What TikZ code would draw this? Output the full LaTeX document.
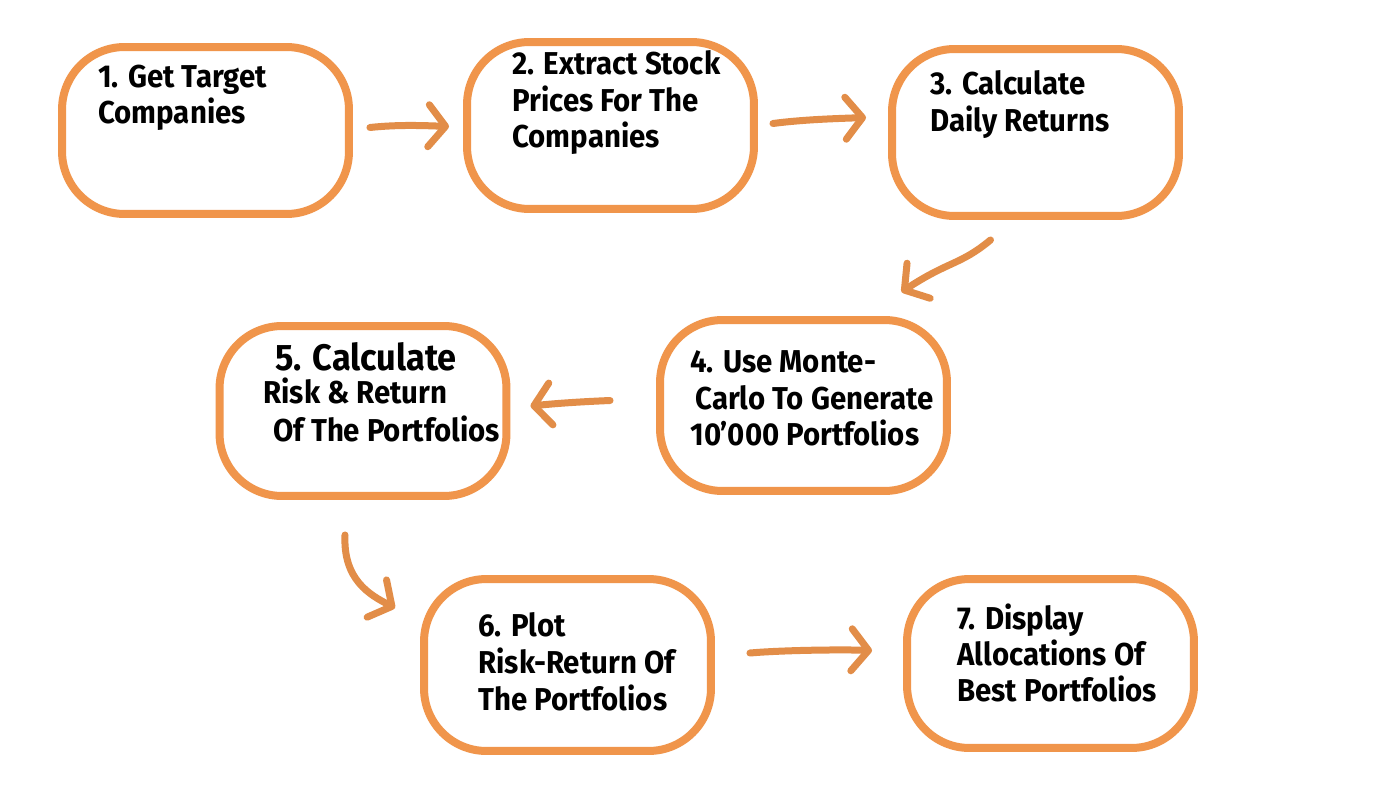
\documentclass[tikz,border=0pt]{standalone}
\usepackage{fontspec}
\setmainfont{Fira Sans}[FakeStretch=0.93]
\usetikzlibrary{arrows.meta,calc}
\definecolor{boxorange}{HTML}{F0954B}
\definecolor{arroworange}{HTML}{E28D48}
\tikzset{
  stepbox/.style={draw=boxorange, line width=0.16cm, rounded corners=1.25cm,
    minimum width=5.74cm, minimum height=3.34cm, fill=white, inner sep=0pt},
  txt/.style={anchor=base west, inner sep=0pt, font=\bfseries\fontsize{18}{22}\selectfont},
  bigtxt/.style={txt, font=\bfseries\fontsize{21}{25}\selectfont},
  flow/.style={draw=arroworange, line width=0.14cm, line cap=round,
    -{Straight Barb[length=0.34cm, width=0.84cm, line cap=round, line join=round]}}
}
\begin{document}
\begin{tikzpicture}[x=0.02cm,y=-0.02cm]
\useasboundingbox[fill=white] (0,0) rectangle (1400,788);
% boxes
\node[stepbox] (b1) at (205.5,130.5) {};
\node[stepbox] (b2) at (610.5,125.5) {};
\node[stepbox] (b3) at (1035.5,132.5) {};
\node[stepbox, minimum height=3.42cm] (b4) at (803.5,405.5) {};
\node[stepbox, minimum height=3.40cm] (b5) at (363,411) {};
\node[stepbox, minimum height=3.44cm] (b6) at (567.5,665) {};
\node[stepbox, minimum height=3.38cm] (b7) at (1050.5,663.5) {};
% texts
\node[txt] (t1a) at (98,87) {1. Get Target};
\node[txt] (t1b) at (98,123) {Companies};
\node[txt] (t2a) at (512,74) {2. Extract Stock};
\node[txt] (t2b) at (512,111) {Prices For The};
\node[txt] (t2c) at (512,147) {Companies};
\node[txt] (t3a) at (930,94) {3. Calculate};
\node[txt] (t3b) at (930,131) {Daily Returns};
\node[txt] (t4a) at (690,372) {4. Use Monte-};
\node[txt] (t4b) at (695,409) {Carlo To Generate};
\node[txt] (t4c) at (690,445) {10'000 Portfolios};
\node[bigtxt] (t5a) at (275,370) {5. Calculate};
\node[txt] (t5b) at (263,403) {Risk \& Return};
\node[txt] (t5c) at (273,441) {Of The Portfolios};
\node[txt] (t6a) at (478,636) {6. Plot};
\node[txt] (t6b) at (478,673) {Risk-Return Of};
\node[txt] (t6c) at (478,710) {The Portfolios};
\node[txt] (t7a) at (957,629) {7. Display};
\node[txt] (t7b) at (957,665) {Allocations Of};
\node[txt] (t7c) at (957,701) {Best Portfolios};
% connectors
\draw[flow] ($(b1.east)+(17,-3)$) .. controls ($(b1.east)+(45,-6)$) and ($(b2.west)+(-40,0)$) .. ($(b2.west)+(-14,1)$);
\draw[flow] ($(b2.east)+(15,-2)$) .. controls ($(b2.east)+(45,-6)$) and ($(b3.west)+(-50,-14)$) .. ($(b3.west)+(-22,-15)$);
\draw[flow] ($(b3.south)+(-45,20)$) .. controls ($(b3.south)+(-75,45)$) and ($(b4.north)+(145,-55)$) .. ($(b4.north)+(98,-24)$);
\draw[flow] ($(b4.west)+(-46,-5)$) .. controls ($(b4.west)+(-70,-4)$) and ($(b5.east)+(50,-8)$) .. ($(b5.east)+(20,-5)$);
\draw[flow] ($(b5.south)+(-18,35)$) .. controls ($(b5.south)+(-20,80)$) and ($(b6.west)+(-50,-70)$) .. ($(b6.west)+(-25,-57)$);
\draw[flow] ($(b6.east)+(35,-12)$) .. controls ($(b6.east)+(70,-15)$) and ($(b7.west)+(-60,-14)$) .. ($(b7.west)+(-31,-13)$);
\end{tikzpicture}
\end{document}
